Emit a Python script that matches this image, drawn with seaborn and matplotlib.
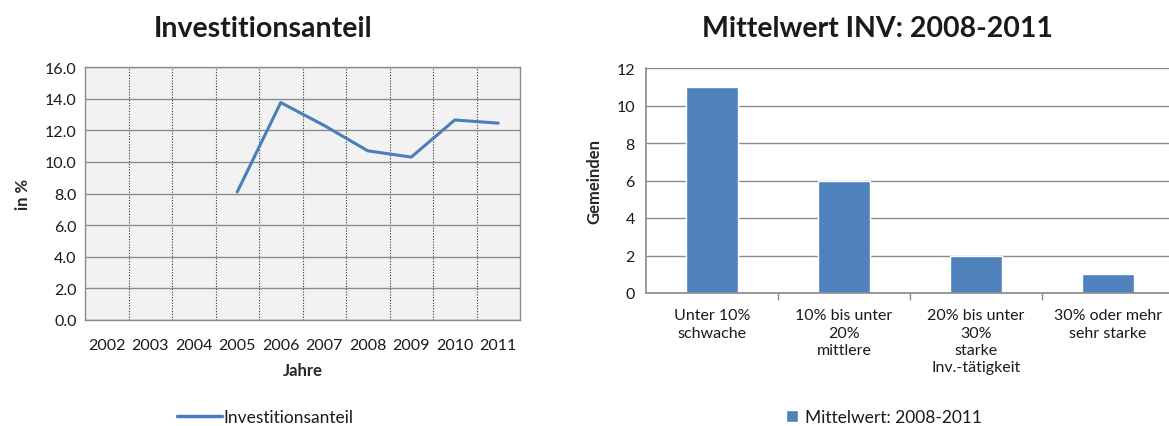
import matplotlib
matplotlib.use("Agg")
import matplotlib.pyplot as plt
from matplotlib.lines import Line2D
from matplotlib.patches import Patch
from matplotlib.ticker import MultipleLocator, FixedLocator
import numpy as np
import pandas as pd
import seaborn as sns

# Investitionsanteil per year (no values before 2005)
years = [2002, 2003, 2004, 2005, 2006, 2007, 2008, 2009, 2010, 2011]
invest_share = [np.nan, np.nan, np.nan, 8.1, 13.75, 12.3, 10.7, 10.3, 12.65, 12.45]

# Number of municipalities per investment class, mean 2008-2011
classes = ["Unter 10%\nschwache", "10% bis unter\n20%\nmittlere",
           "20% bis unter\n30%\nstarke\nInv.-tätigkeit", "30% oder mehr\nsehr starke"]
counts = [11, 6, 2, 1]

sns.set_theme(style="white")
plt.rcParams["font.family"] = ["Lato", "DejaVu Sans"]
plt.rcParams["text.color"] = "#1a1a1a"
plt.rcParams["xtick.color"] = "#1a1a1a"
plt.rcParams["ytick.color"] = "#1a1a1a"

LINE_BLUE = "#4A7EBB"
BAR_BLUE = "#4F81BD"
GRID = "#8c8c8c"
TICK_FS = 11.5
LABEL_FS = 12
TITLE_FS = 20.5
LEGEND_FS = 12.5

W, H = 1169, 427
fig = plt.figure(figsize=(W / 100, H / 100), dpi=100)


def box(l, r, t, b):
    return [l / W, 1 - b / H, (r - l) / W, (b - t) / H]


# ---- left: line chart ----
ax1 = fig.add_axes(box(85, 520, 68, 321))
df_line = pd.DataFrame({"Jahr": years, "Anteil": invest_share})
sns.lineplot(data=df_line, x="Jahr", y="Anteil", ax=ax1, color=LINE_BLUE,
             linewidth=2.2, label="Investitionsanteil", legend=False)
ax1.set_facecolor("#F2F2F2")
ax1.set_xlim(years[0] - 0.5, years[-1] + 0.5)
ax1.set_ylim(0, 16)
ax1.yaxis.set_major_locator(MultipleLocator(2))
ax1.set_yticklabels([f"{v:.1f}" for v in ax1.get_yticks()])
ax1.xaxis.set_major_locator(FixedLocator(years))
ax1.set_xticklabels([str(y) for y in years])
ax1.xaxis.set_minor_locator(FixedLocator([y + 0.5 for y in years[:-1]]))
ax1.grid(axis="y", which="major", color=GRID, linewidth=1.0)
ax1.grid(axis="x", which="minor", color="#333333", linewidth=0.8, linestyle=(0, (1, 1.5)))
ax1.tick_params(axis="both", which="both", length=0, labelsize=TICK_FS)
ax1.tick_params(axis="x", pad=13)
ax1.tick_params(axis="y", pad=6)
for s in ax1.spines.values():
    s.set_color(GRID)
    s.set_linewidth(1.0)
ax1.set_xlabel("Jahre", fontsize=LABEL_FS, fontweight="bold", labelpad=7)
ax1.set_ylabel("in %", fontsize=LABEL_FS, fontweight="bold", labelpad=10)
ax1.set_axisbelow(True)
fig.text(263 / W, 1 - 29 / H, "Investitionsanteil", ha="center", va="center",
         fontsize=TITLE_FS, fontweight="bold")
fig.legend(handles=[Line2D([0], [0], color=LINE_BLUE, lw=2.5)],
           labels=["Investitionsanteil"], loc="center",
           bbox_to_anchor=(265 / W, 1 - 418 / H), frameon=False, fontsize=LEGEND_FS,
           handlelength=2.6, handletextpad=0.1)

# ---- right: bar chart ----
ax2 = fig.add_axes(box(646, 1174, 69, 294))
df_bar = pd.DataFrame({"Klasse": classes, "Gemeinden": counts})
sns.barplot(data=df_bar, x="Klasse", y="Gemeinden", ax=ax2, color=BAR_BLUE,
            width=0.4, saturation=1)
ax2.set_xlim(-0.5, len(classes) - 0.5)
ax2.set_ylim(0, 12)
ax2.yaxis.set_major_locator(MultipleLocator(2))
ax2.grid(axis="y", color=GRID, linewidth=1.0)
ax2.set_axisbelow(True)
ax2.xaxis.set_minor_locator(FixedLocator([i + 0.5 for i in range(len(classes) - 1)]))
ax2.tick_params(axis="x", which="major", length=0, labelsize=TICK_FS, pad=11)
ax2.tick_params(axis="x", which="minor", length=5, width=1, color=GRID, direction="out")
ax2.tick_params(axis="y", length=0, labelsize=TICK_FS, pad=8)
ax2.xaxis.set_ticks_position("bottom")
for lab in ax2.get_xticklabels():
    lab.set_linespacing(1.3)
ax2.spines["top"].set_visible(False)
ax2.spines["right"].set_visible(False)
ax2.spines["left"].set_color(GRID)
ax2.spines["bottom"].set_color(GRID)
ax2.set_xlabel("")
ax2.set_ylabel("Gemeinden", fontsize=LABEL_FS, fontweight="bold", labelpad=10)
fig.text(877 / W, 1 - 29 / H, "Mittelwert INV: 2008-2011", ha="center", va="center",
         fontsize=TITLE_FS, fontweight="bold")
fig.legend(handles=[Patch(facecolor=BAR_BLUE)], labels=["Mittelwert: 2008-2011"],
           loc="center", bbox_to_anchor=(884 / W, 1 - 418 / H), frameon=False,
           fontsize=LEGEND_FS, handlelength=0.7, handleheight=0.7, handletextpad=0.4)

fig.savefig("out.png", dpi=100, facecolor="white")
